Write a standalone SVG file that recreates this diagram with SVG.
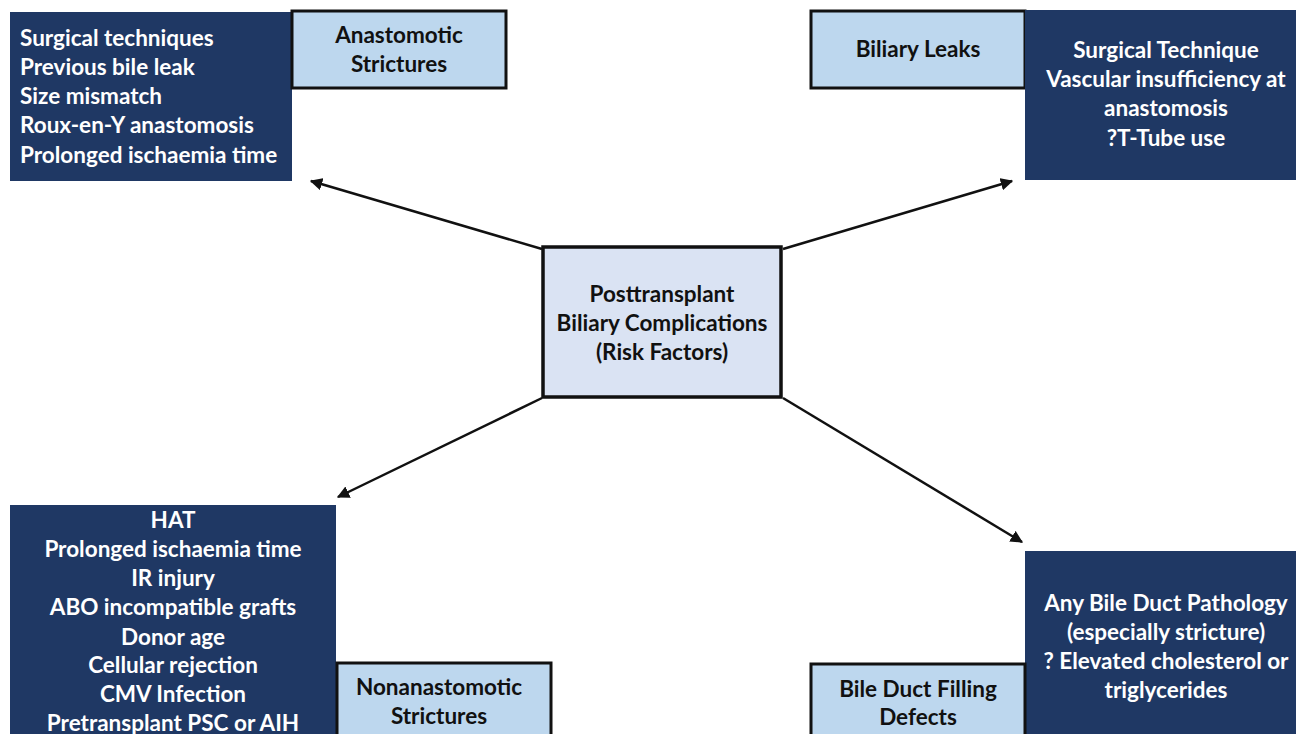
<svg xmlns="http://www.w3.org/2000/svg" width="1296" height="734" viewBox="0 0 1296 734">
<defs>
<style>
.dark{fill:#1f3864;}
.lite{fill:#bdd7ee;stroke:#111;stroke-width:3;}
.ctr{fill:#dae3f3;stroke:#111;stroke-width:3.5;}
.wt{font-family:Lato,"Liberation Sans",sans-serif;font-weight:bold;font-size:22.5px;fill:#fff;}
.bt{font-family:Lato,"Liberation Sans",sans-serif;font-weight:bold;font-size:22.5px;fill:#111;}
.c{text-anchor:middle;}
.conn{stroke:#111;stroke-width:2.5;fill:none;marker-end:url(#ah);}
</style>
<marker id="ah" viewBox="0 0 10 10" refX="9" refY="5" markerWidth="5" markerHeight="5" orient="auto" markerUnits="strokeWidth">
<path d="M0,0 L10,5 L0,10 z" fill="#111"/>
</marker>
</defs>
<rect width="1296" height="734" fill="#fff"/>
<g id="connectors">
<line class="conn" x1="542" y1="249" x2="311" y2="181"/>
<line class="conn" x1="783" y1="249" x2="1012" y2="181"/>
<line class="conn" x1="542" y1="398" x2="338" y2="497"/>
<line class="conn" x1="783" y1="398" x2="1022" y2="542"/>
</g>
<g id="anast-factors">
<rect class="dark" x="10" y="12" width="282" height="169"/>
<text class="wt" x="20" y="46">Surgical techniques</text>
<text class="wt" x="20" y="75">Previous bile leak</text>
<text class="wt" x="20" y="104">Size mismatch</text>
<text class="wt" x="20" y="133">Roux-en-Y anastomosis</text>
<text class="wt" x="20" y="163">Prolonged ischaemia time</text>
</g>
<g id="anast">
<rect class="lite" x="292" y="11" width="214" height="77"/>
<text class="bt c" x="399" y="43">Anastomotic</text>
<text class="bt c" x="399" y="72">Strictures</text>
</g>
<g id="leaks">
<rect class="lite" x="811" y="11" width="214" height="77"/>
<text class="bt c" x="918" y="57">Biliary Leaks</text>
</g>
<g id="leak-factors">
<rect class="dark" x="1025" y="10" width="271" height="170"/>
<text class="wt c" x="1166" y="58">Surgical Technique</text>
<text class="wt c" x="1166" y="87">Vascular insufficiency at</text>
<text class="wt c" x="1166" y="116">anastomosis</text>
<text class="wt c" x="1166" y="146">?T-Tube use</text>
</g>
<g id="center">
<rect class="ctr" x="543" y="247" width="238" height="150"/>
<text class="bt c" x="662" y="302">Posttransplant</text>
<text class="bt c" x="662" y="331">Biliary Complications</text>
<text class="bt c" x="662" y="360">(Risk Factors)</text>
</g>
<g id="nonanast-factors">
<rect class="dark" x="10" y="505" width="326" height="229"/>
<text class="wt c" x="173" y="528">HAT</text>
<text class="wt c" x="173" y="557">Prolonged ischaemia time</text>
<text class="wt c" x="173" y="586">IR injury</text>
<text class="wt c" x="173" y="615">ABO incompatible grafts</text>
<text class="wt c" x="173" y="645">Donor age</text>
<text class="wt c" x="173" y="673">Cellular rejection</text>
<text class="wt c" x="173" y="702">CMV Infection</text>
<text class="wt c" x="173" y="731">Pretransplant PSC or AIH</text>
</g>
<g id="nonanast">
<rect class="lite" x="337" y="663" width="214" height="80"/>
<text class="bt c" x="439" y="695">Nonanastomotic</text>
<text class="bt c" x="439" y="724">Strictures</text>
</g>
<g id="filling-factors">
<rect class="dark" x="1025" y="551" width="271" height="183"/>
<text class="wt c" x="1166" y="611">Any Bile Duct Pathology</text>
<text class="wt c" x="1166" y="640">(especially stricture)</text>
<text class="wt c" x="1166" y="669">? Elevated cholesterol or</text>
<text class="wt c" x="1166" y="698">triglycerides</text>
</g>
<g id="filling">
<rect class="lite" x="811" y="664" width="214" height="80"/>
<text class="bt c" x="918" y="697">Bile Duct Filling</text>
<text class="bt c" x="918" y="725">Defects</text>
</g>
</svg>
